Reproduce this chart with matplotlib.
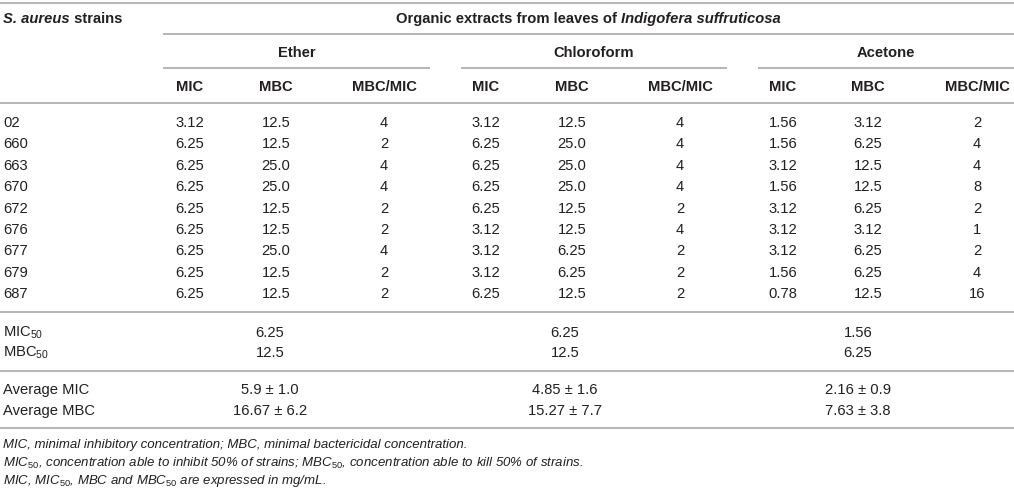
import matplotlib
matplotlib.use('Agg')
import matplotlib.pyplot as plt

plt.rcParams['font.family'] = ['Liberation Sans', 'DejaVu Sans']
plt.rcParams['mathtext.fontset'] = 'custom'
plt.rcParams['mathtext.rm'] = 'Liberation Sans'
plt.rcParams['mathtext.it'] = 'Liberation Sans:italic'
plt.rcParams['mathtext.bf'] = 'Liberation Sans:bold'

# table content
strains = ['02', '660', '663', '670', '672', '676', '677', '679', '687']
extracts = ['Ether', 'Chloroform', 'Acetone']
sub_cols = ['MIC', 'MBC', 'MBC/MIC']

ether_mic = ['3.12', '6.25', '6.25', '6.25', '6.25', '6.25', '6.25', '6.25', '6.25']
ether_mbc = ['12.5', '12.5', '25.0', '25.0', '12.5', '12.5', '25.0', '12.5', '12.5']
ether_ratio = ['4', '2', '4', '4', '2', '2', '4', '2', '2']
chloro_mic = ['3.12', '6.25', '6.25', '6.25', '6.25', '3.12', '3.12', '3.12', '6.25']
chloro_mbc = ['12.5', '25.0', '25.0', '25.0', '12.5', '12.5', '6.25', '6.25', '12.5']
chloro_ratio = ['4', '4', '4', '4', '2', '4', '2', '2', '2']
acet_mic = ['1.56', '1.56', '3.12', '1.56', '3.12', '3.12', '3.12', '1.56', '0.78']
acet_mbc = ['3.12', '6.25', '12.5', '12.5', '6.25', '3.12', '6.25', '6.25', '12.5']
acet_ratio = ['2', '4', '4', '8', '2', '1', '2', '4', '16']

mic50 = ['6.25', '6.25', '1.56']
mbc50 = ['12.5', '12.5', '6.25']
avg_mic = ['5.9 \u00b1 1.0', '4.85 \u00b1 1.6', '2.16 \u00b1 0.9']
avg_mbc = ['16.67 \u00b1 6.2', '15.27 \u00b1 7.7', '7.63 \u00b1 3.8']

footnotes = [
    'MIC, minimal inhibitory concentration; MBC, minimal bactericidal concentration.',
    'MIC$_{\\mathit{50}}$, concentration able to inhibit 50% of strains; MBC$_{\\mathit{50}}$, concentration able to kill 50% of strains.',
    'MIC, MIC$_{\\mathit{50}}$, MBC and MBC$_{\\mathit{50}}$ are expressed in mg/mL.',
]

# layout (pixel units)
W, H = 1014, 499
col_x = [[190, 276, 384], [486, 572, 680], [783, 868, 977]]
group_cx = [297, 594, 886]
group_span = [(163, 430), (461, 727), (758, 1014)]
summary_cx = [270, 565, 858]
TXT = '#231f20'
LINE = '#b4b4b4'
FS = 10.6

fig = plt.figure(figsize=(W / 100, H / 100), dpi=100)
ax = fig.add_axes([0, 0, 1, 1])
ax.set_xlim(0, W)
ax.set_ylim(H, 0)
ax.axis('off')
renderer = fig.canvas.get_renderer()


def rich(x, y, pieces, ha='left'):
    texts = [ax.text(0, y, s, va='center', ha='left', fontsize=FS,
                     fontweight='bold', fontstyle=st, color=TXT)
             for s, st in pieces]
    widths = [t.get_window_extent(renderer).width for t in texts]
    pos = x - sum(widths) / 2 if ha == 'center' else x
    for t, w in zip(texts, widths):
        t.set_x(pos)
        pos += w


def hline(y, x0=0, x1=W):
    ax.plot([x0, x1], [y, y], color=LINE, lw=1.4, solid_capstyle='butt')


# header
hline(3)
rich(3, 19, [('S. aureus', 'italic'), (' strains', 'normal')])
rich(588, 19, [('Organic extracts from leaves of ', 'normal'),
               ('Indigofera suffruticosa', 'italic')], ha='center')
hline(34, 163, W)
for g, name in enumerate(extracts):
    ax.text(group_cx[g], 53, name, ha='center', va='center', fontsize=FS,
            fontweight='bold', color=TXT)
    hline(68, *group_span[g])
    for c, sc in enumerate(sub_cols):
        ax.text(col_x[g][c], 87, sc, ha='center', va='center', fontsize=FS,
                fontweight='bold', color=TXT)
hline(103)

# strain rows
groups = [[ether_mic, ether_mbc, ether_ratio],
          [chloro_mic, chloro_mbc, chloro_ratio],
          [acet_mic, acet_mbc, acet_ratio]]
row_y0, row_dy = 123, 21.4
for i, s in enumerate(strains):
    y = row_y0 + i * row_dy
    ax.text(3, y, s, ha='left', va='center', fontsize=FS, color=TXT)
    for g in range(3):
        for c in range(3):
            ax.text(col_x[g][c], y, groups[g][c][i], ha='center', va='center',
                    fontsize=FS, color=TXT)
hline(312)

# summary rows
summary = [('MIC$_{50}$', mic50, 333), ('MBC$_{50}$', mbc50, 353),
           ('Average MIC', avg_mic, 390), ('Average MBC', avg_mbc, 411)]
for label, vals, y in summary:
    ax.text(3, y, label, ha='left', va='center', fontsize=FS, color=TXT)
    for g in range(3):
        ax.text(summary_cx[g], y, vals[g], ha='center', va='center',
                fontsize=FS, color=TXT)
hline(371)
hline(428)

for k, fn in enumerate(footnotes):
    ax.text(3, 445 + k * 18, fn, ha='left', va='center', fontsize=9.5,
            fontstyle='italic', color=TXT)

fig.savefig('out.png', dpi=100)
